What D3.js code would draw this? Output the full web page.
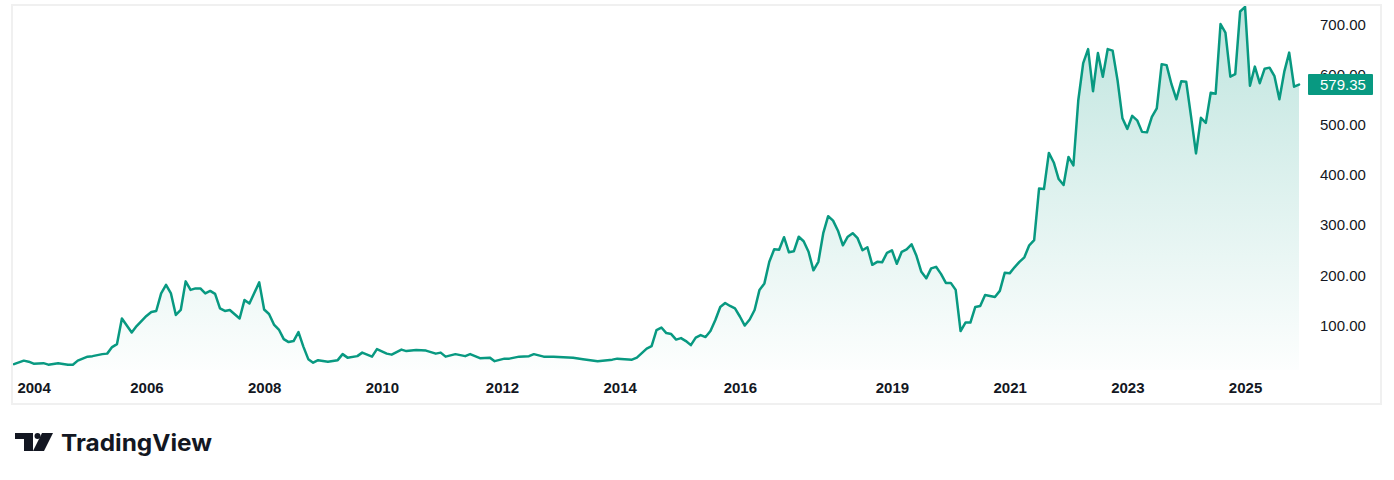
<!DOCTYPE html>
<html>
<head>
<meta charset="utf-8">
<script src="https://cdn.jsdelivr.net/npm/d3@7/dist/d3.min.js"></script>
<style>
  html, body { margin: 0; padding: 0; background: #ffffff; }
  svg { display: block; }
</style>
</head>
<body>
<svg id="chart" width="1394" height="480"></svg>
<script>
// ---- data (monthly bars; bar index, close price) ----
const bars = [0,2,3,4,6,7,9,11,12,13,15,16,18,19,20,21,22,24,25,27,28,29,30,31,32,33,34,35,36,37,38,39,40,41,42,43,44,46,47,48,50,51,52,53,54,55,56,57,58,59,60,61,62,64,66,67,68,70,71,73,74,76,77,79,80,82,84,86,87,88,90,92,93,95,97,98,100,101,103,105,106,108,110,114,116,119,122,123,126,127,129,130,131,132,133,134,135,136,137,138,139,140,141,142,143,144,145,146,147,148,149,150,151,152,153,154,155,156,157,158,159,160,161,162,163,164,165,166,167,168,169,170,171,172,173,174,175,176,177,178,179,180,181,182,183,184,185,186,187,188,189,190,191,192,193,194,195,196,197,198,199,200,201,202,203,204,205,206,207,208,209,210,211,212,213,214,215,216,217,218,219,220,221,222,223,224,225,226,227,228,229,230,231,232,233,234,235,236,237,238,239,240,241,242,243,244,245,246,247,248,249,250,251,252,253,254,255,256,257,258,259,260,261,262];
const prices = [22,29,27,23,24,21,24,21,21,29,37,38,42,43,56,62,113,85,98,118,126,128,163,180,163,120,130,187,170,173,173,163,168,162,133,128,130,113,150,143,185,131,122,101,91,72,66,68,86,57,32,25,30,27,30,42,35,38,45,37,52,43,41,51,48,50,49,43,45,37,42,38,42,34,35,28,33,33,37,38,42,37,37,35,32,28,31,33,31,35,53,58,90,95,84,82,71,74,68,60,75,80,76,88,110,136,144,138,133,117,99,111,130,170,183,226,251,250,275,245,247,276,267,246,209,226,283,317,308,288,259,276,283,273,249,255,220,226,225,244,249,222,246,251,261,238,206,193,213,216,202,184,184,170,88,105,105,136,138,160,158,156,168,204,203,215,226,235,259,269,372,371,443,424,391,379,435,418,548,622,650,566,642,595,650,647,588,512,491,517,508,485,484,515,532,620,618,580,550,586,585,515,442,513,503,563,561,700,683,595,600,725,734,577,615,582,611,613,596,550,605,643,575,579.35];
const xTickBars = [4,27,51,75,99.5,123.5,148,179,203,227,251];
const xTickLabels = ["2004","2006","2008","2010","2012","2014","2016","2019","2021","2023","2025"];
const yTickValues = [100,200,300,400,500,600,700];
const lastPrice = 579.35;

const data = bars.map((b, i) => ({ b, v: prices[i] }));

const svg = d3.select("#chart");
const lineColor = "#089981";

// frame
svg.append("rect")
  .attr("x", 12).attr("y", 5).attr("width", 1369).attr("height", 399)
  .attr("fill", "none").attr("stroke", "#f0f0f0").attr("stroke-width", 2);

const x = d3.scaleLinear().domain([0, 262]).range([14, 1299]);
const y = d3.scaleLinear().domain([0, 700]).range([375.2, 24]);
const paneBottom = 370;

const defs = svg.append("defs");
const grad = defs.append("linearGradient")
  .attr("id", "areaGrad").attr("gradientUnits", "userSpaceOnUse")
  .attr("x1", 0).attr("x2", 0).attr("y1", 7).attr("y2", paneBottom);
grad.append("stop").attr("offset", "0%").attr("stop-color", lineColor).attr("stop-opacity", 0.26);
grad.append("stop").attr("offset", "100%").attr("stop-color", lineColor).attr("stop-opacity", 0.01);

defs.append("clipPath").attr("id", "pane")
  .append("rect").attr("x", 13).attr("y", 6).attr("width", 1290).attr("height", paneBottom - 6);

const g = svg.append("g").attr("clip-path", "url(#pane)");

g.append("path").datum(data)
  .attr("fill", "url(#areaGrad)")
  .attr("d", d3.area().x(d => x(d.b)).y0(paneBottom).y1(d => y(d.v)));

g.append("path").datum(data)
  .attr("fill", "none").attr("stroke", lineColor).attr("stroke-width", 2.5)
  .attr("stroke-linejoin", "round").attr("stroke-linecap", "round")
  .attr("d", d3.line().x(d => x(d.b)).y(d => y(d.v)));

// y axis (right)
const yAxis = svg.append("g").attr("transform", "translate(1320,0)")
  .call(d3.axisRight(y).tickValues(yTickValues).tickFormat(d3.format(".2f")).tickSize(0).tickPadding(0));
yAxis.select(".domain").remove();
yAxis.selectAll("text")
  .attr("font-family", "Liberation Sans, Arial, sans-serif").attr("font-size", 15)
  .attr("fill", "#131722").attr("text-anchor", "start").attr("dy", "0.35em");

// last price tag (covers the 600.00 label as in the reference)
const tag = svg.append("g");
tag.append("rect").attr("x", 1308).attr("y", y(lastPrice) - 10.5).attr("width", 65).attr("height", 21)
  .attr("fill", lineColor).attr("rx", 1);
tag.append("text").attr("x", 1320).attr("y", y(lastPrice)).attr("dy", "0.35em")
  .attr("font-family", "Liberation Sans, Arial, sans-serif").attr("font-size", 15)
  .attr("fill", "#ffffff").text(d3.format(".2f")(lastPrice));

// x axis
const xAxis = svg.append("g").attr("transform", "translate(0,388)")
  .call(d3.axisBottom(x).tickValues(xTickBars).tickFormat((d, i) => xTickLabels[i]).tickSize(0).tickPadding(0));
xAxis.select(".domain").remove();
xAxis.selectAll("text")
  .attr("y", 0).attr("dy", "0.35em")
  .attr("font-family", "Liberation Sans, Arial, sans-serif").attr("font-size", 15).attr("font-weight", "bold")
  .attr("fill", "#131722");

// TradingView logo
const logo = svg.append("g").attr("fill", "#131722");
logo.append("path").attr("d", "M15,433 H33 V451 H24 V439 H15 Z");
logo.append("circle").attr("cx", 37.5).attr("cy", 436).attr("r", 3);
logo.append("path").attr("d", "M42,433 H53 L44,451 H33 Z");
logo.append("text").attr("x", 61).attr("y", 451)
  .attr("font-family", "Inter, sans-serif").attr("font-weight", 700).attr("font-size", 23)
  .attr("textLength", 151).attr("lengthAdjust", "spacingAndGlyphs")
  .text("TradingView");
</script>
</body>
</html>
